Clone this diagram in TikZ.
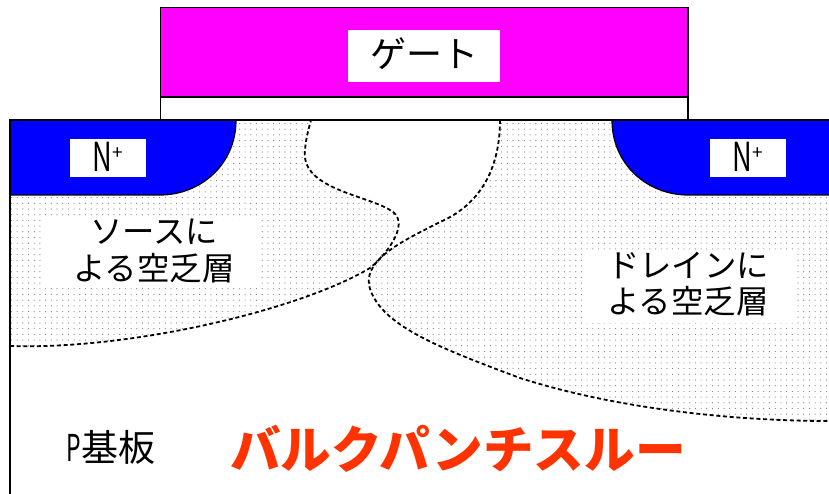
\documentclass[tikz,border=0pt]{standalone}
\usepackage{fontspec}
\setmainfont{Noto Sans CJK JP}
\usetikzlibrary{patterns.meta}
\definecolor{gatecol}{RGB}{255,0,255}
\definecolor{bulkcol}{RGB}{255,51,0}
\tikzset{
  dotted region/.style={pattern={Dots[radius=0.6pt,distance=5.7pt]},pattern color=black!50},
  boundary/.style={draw=black,line width=1.8pt,dash pattern=on 4pt off 2.7pt},
  solidline/.style={draw=black,line width=1.8pt},
  body/.style={font=\fontsize{32.4pt}{36.5pt}\selectfont,align=center,inner sep=0pt,text=black},
}
\begin{document}
\begin{tikzpicture}[x=1pt,y=-1pt]
\useasboundingbox (0,0) rectangle (829,494);
\fill[white] (0,0) rectangle (829,494);
% depletion regions
\path[dotted region] (10,195) -- (10,346) .. controls (130,350) and (300,310) .. (370,268)
  .. controls (385,256) and (410,225) .. (393,212)
  .. controls (370,195) and (300,190) .. (305,150)
  .. controls (306,137) and (309,128) .. (311,120) -- (236,120) -- (160,195) -- cycle;
\path[dotted region] (500,120) .. controls (500,175) and (475,207) .. (440,222)
  .. controls (405,240) and (365,258) .. (369,285)
  .. controls (378,325) and (440,348) .. (520,378)
  .. controls (620,410) and (740,421) .. (829,421) -- (829,195) -- (688,195) -- (612,120) -- cycle;
% white label backings
\node[fill=white,minimum width=217pt,minimum height=67pt,inner sep=0pt] (srcbg) at (152,253.5) {};
\node[fill=white,minimum width=213pt,minimum height=71pt,inner sep=0pt] (drnbg) at (688.5,287.5) {};
% gate
\draw[solidline,line width=1.4pt,fill=gatecol] (160.5,7.5) rectangle (688,97);
\draw[solidline,line width=1.4pt,fill=white] (160.5,97) rectangle (688,120);
% N+ regions
\fill[blue] (10,120) -- (236,120) .. controls (236,165) and (200,195) .. (160,195) -- (10,195) -- cycle;
\fill[blue] (829,120) -- (612,120) .. controls (612,165) and (648,195) .. (688,195) -- (829,195) -- cycle;
\draw[black,line width=1.2pt] (236,120) .. controls (236,165) and (200,195) .. (160,195) -- (10,195);
\draw[black,line width=1.2pt] (612,120) .. controls (612,165) and (648,195) .. (688,195) -- (829,195);
% boundaries
\draw[boundary] (10,346) .. controls (130,350) and (300,310) .. (370,268)
  .. controls (385,256) and (410,225) .. (393,212)
  .. controls (370,195) and (300,190) .. (305,150)
  .. controls (306,137) and (309,128) .. (311,120);
\draw[boundary] (500,120) .. controls (500,175) and (475,207) .. (440,222)
  .. controls (405,240) and (365,258) .. (369,285)
  .. controls (378,325) and (440,348) .. (520,378)
  .. controls (620,410) and (740,421) .. (829,421);
% substrate outline
\draw[solidline] (10,494) -- (10,120) -- (829,120);
% labels
\node[fill=white,minimum width=152pt,minimum height=52pt,inner sep=0pt] (gatebox) at (424,56) {};
\node[body,font=\fontsize{36pt}{40pt}\selectfont] (gatetext) at (424,54) {ゲート};
\node[fill=white,minimum width=76pt,minimum height=38pt,inner sep=0pt] (nl) at (108,158) {};
\node[fill=white,minimum width=76pt,minimum height=38pt,inner sep=0pt] (nr) at (748,158) {};
\node[inner sep=0pt,font=\fontsize{40pt}{44pt}\selectfont] (nltext) at (108,157) {\scalebox{0.68}[1]{N}\raisebox{12pt}{\fontsize{19pt}{19pt}\selectfont +}};
\node[inner sep=0pt,font=\fontsize{40pt}{44pt}\selectfont] (nrtext) at (748,157) {\scalebox{0.68}[1]{N}\raisebox{12pt}{\fontsize{19pt}{19pt}\selectfont +}};
\node[body] (srctext) at (154,251) {ソースに\\よる空乏層};
\node[body] (drntext) at (688,284) {ドレインに\\よる空乏層};
\node[body,font=\fontsize{37pt}{40pt}\selectfont] (ptext) at (111,447) {\scalebox{0.62}[1]{P}基板};
\node[inner sep=0pt,text=bulkcol,font=\fontsize{50.6pt}{54pt}\selectfont\bfseries] (bulk) at (458,449) {バルクパンチスルー};
\end{tikzpicture}
\end{document}
